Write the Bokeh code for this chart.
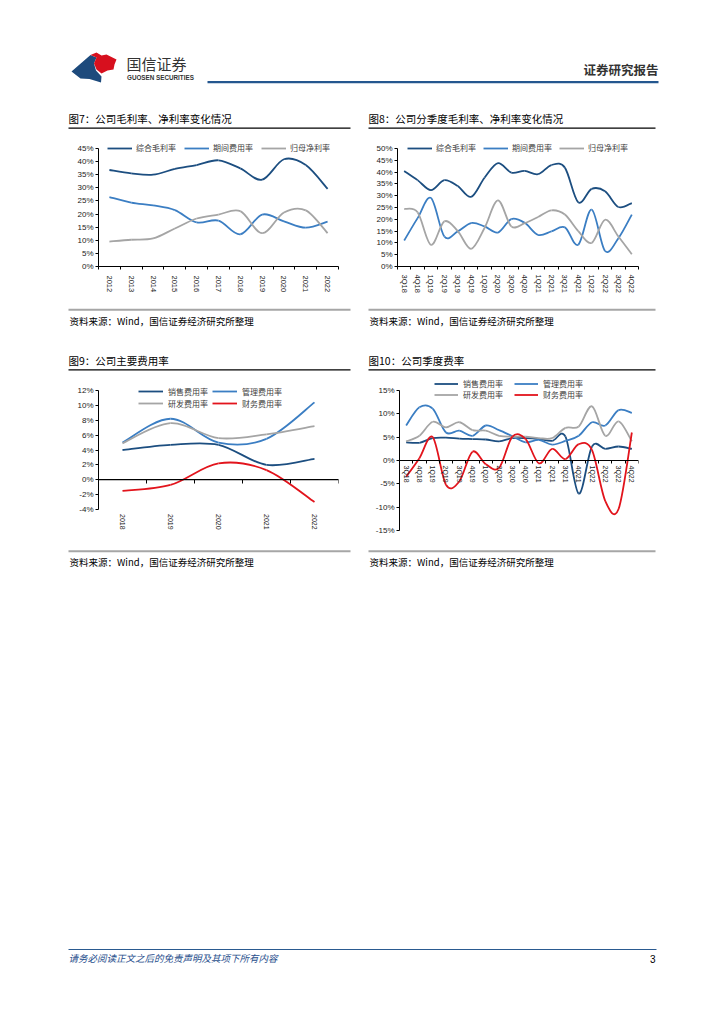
import numpy as np
from bokeh.plotting import figure
from bokeh.models import (Range1d, LinearAxis, FixedTicker, Legend, LegendItem,
                          PrintfTickFormatter, Span)
from bokeh.layouts import column, row
from bokeh.embed import file_html
from bokeh.resources import INLINE
from bokeh.core.properties import value

# ---------------- data ----------------
years_a = ["2012", "2013", "2014", "2015", "2016", "2017", "2018", "2019", "2020", "2021", "2022"]
gross_margin_a = [36.8, 35.5, 35.0, 37.2, 38.7, 40.5, 37.4, 33.1, 40.9, 38.7, 29.6]
expense_ratio_a = [26.5, 24.4, 23.3, 21.5, 16.8, 17.5, 12.3, 19.8, 17.2, 14.8, 17.1]
net_margin_a = [9.5, 10.2, 10.7, 14.5, 18.3, 19.8, 21.1, 12.7, 20.6, 21.4, 12.7]

quarters = ["3Q18", "4Q18", "1Q19", "2Q19", "3Q19", "4Q19", "1Q20", "2Q20", "3Q20",
            "4Q20", "1Q21", "2Q21", "3Q21", "4Q21", "1Q22", "2Q22", "3Q22", "4Q22"]
gross_margin_q = [40.5, 36.6, 32.4, 36.6, 34.1, 29.5, 37.6, 43.8, 39.8, 40.5, 39.1, 43.0, 41.9, 27.2, 32.9, 31.9, 25.2, 26.9]
expense_ratio_q = [11.0, 20.5, 29.0, 12.7, 14.9, 18.4, 17.0, 14.4, 20.1, 18.5, 13.4, 14.9, 16.6, 9.2, 24.1, 6.6, 12.0, 22.0]
net_margin_q = [24.4, 23.0, 9.2, 19.1, 15.0, 7.5, 16.3, 28.0, 17.0, 18.4, 21.0, 23.8, 22.0, 15.0, 10.0, 19.8, 12.7, 5.2]

years_b = ["2018", "2019", "2020", "2021", "2022"]
selling_b = [4.0, 4.7, 4.7, 2.0, 2.8]
admin_b = [5.0, 8.2, 5.0, 5.5, 10.4]
rd_b = [4.9, 7.6, 5.6, 6.1, 7.2]
finance_b = [-1.5, -0.7, 2.2, 1.3, -3.0]

selling_q = [3.9, 3.8, 4.8, 4.9, 4.7, 4.6, 4.5, 4.1, 4.8, 4.8, 4.6, 4.2, 5.1, -7.1, 3.0, 2.5, 3.0, 2.5]
admin_q = [7.5, 11.4, 11.1, 6.0, 6.4, 5.3, 7.5, 6.5, 5.2, 3.9, 4.4, 3.4, 4.2, 5.3, 8.2, 7.5, 10.8, 10.2]
rd_q = [4.1, 5.3, 8.3, 7.1, 8.2, 6.5, 6.4, 5.3, 5.1, 5.1, 4.8, 4.8, 7.0, 7.3, 11.6, 5.3, 8.4, 4.1]
finance_q = [-3.5, 0.5, 5.0, -5.2, -4.5, 1.9, -0.8, -1.6, 5.1, 4.6, -0.6, 2.5, 0.3, 3.5, 2.2, -8.7, -10.4, 6.0]

margin_names = ["综合毛利率", "期间费用率", "归母净利率"]
fee_names = ["销售费用率", "管理费用率", "研发费用率", "财务费用率"]

titles = ["图7：公司毛利率、净利率变化情况", "图8：公司分季度毛利率、净利率变化情况",
          "图9：公司主要费用率", "图10：公司季度费率"]
source_text = "资料来源：Wind，国信证券经济研究所整理"
footer_text = "请务必阅读正文之后的免责声明及其项下所有内容"
page_no = "3"

# ---------------- style ----------------
CJK = "Noto Sans CJK SC"
LAT = "Liberation Sans"
DARK = "#1c4e80"
MID = "#3b7ec3"
GRAY = "#a5a5a5"
RED = "#e2141c"
LW = 1.8
PAGE_W = 708


def decor(h, y0):
    p = figure(width=PAGE_W, height=h, x_range=Range1d(0, PAGE_W), y_range=Range1d(y0 + h, y0),
               x_axis_type=None, y_axis_type=None, toolbar_location=None,
               output_backend="svg", min_border=0, outline_line_color=None,
               background_fill_color="white", border_fill_color="white")
    return p


def txt(p, x, y, s, size, color="#000000", font=CJK, align="left", style="normal"):
    p.text(x=[x], y=[y], text=[s], text_font=value(font), text_font_size=size,
           text_color=color, text_align=align, text_baseline="middle",
           text_font_style=style)


def hline(p, x0, x1, y, color, w):
    p.line(x=[x0, x1], y=[y, y], line_color=color, line_width=w)


def make_chart(width, height, row_top, bl, fw, f_top, f_bot, hi_px, lo_px,
               ncat, ylo, yhi, ystep):
    """Frame spans page rows f_top..f_bot; value yhi sits at hi_px and ylo at lo_px."""
    scale = (lo_px - hi_px) / (yhi - ylo)
    ytop = yhi + (hi_px - f_top) / scale
    ybot = ylo - (f_bot - lo_px) / scale
    bt = f_top - row_top
    bb = row_top + height - f_bot
    br = width - bl - fw
    p = figure(width=width, height=height, x_range=Range1d(-0.5, ncat - 0.5),
               y_range=Range1d(ybot, ytop), toolbar_location=None, output_backend="svg",
               min_border_left=bl, min_border_right=br, min_border_top=bt,
               min_border_bottom=bb, outline_line_color=None,
               background_fill_color="white", border_fill_color="white")
    p.xgrid.visible = False
    p.ygrid.visible = False
    ya = p.yaxis[0]
    ya.bounds = (ylo, yhi)
    ya.ticker = FixedTicker(ticks=list(range(ylo, yhi + 1, ystep)))
    ya.formatter = PrintfTickFormatter(format="%d%%")
    ya.major_label_text_font = LAT
    ya.major_label_text_font_size = "8px"
    ya.major_label_text_color = "#222222"
    ya.major_tick_out = 3
    ya.major_tick_in = 0
    ya.major_label_standoff = 2
    ya.minor_tick_line_color = None
    ya.axis_line_color = "#000000"
    ya.major_tick_line_color = "#000000"
    return p, scale


def style_cat_axis(ax, labels, standoff, boundary_ticks=True):
    n = len(labels)
    ax.ticker = FixedTicker(ticks=list(range(n)),
                            minor_ticks=[i - 0.5 for i in range(n + 1)] if boundary_ticks else [])
    ax.major_label_overrides = {i: lab for i, lab in enumerate(labels)}
    ax.major_label_orientation = "vertical"
    ax.major_label_text_font = LAT
    ax.major_label_text_font_size = "7.5px"
    ax.major_label_text_color = "#222222"
    ax.major_label_standoff = standoff
    ax.major_tick_out = 0
    ax.major_tick_in = 0
    ax.minor_tick_out = 3
    ax.minor_tick_in = 0
    ax.minor_tick_line_color = "#000000"
    ax.axis_line_color = "#000000"


def smooth(p, ys, color):
    ys = np.asarray(ys, dtype=float)
    n = len(ys)
    xs = np.arange(n, dtype=float)
    i = np.arange(n - 1)
    im1 = np.maximum(i - 1, 0)
    ip2 = np.minimum(i + 2, n - 1)
    cx0 = xs[i] + (xs[i + 1] - xs[im1]) / 6.0
    cy0 = ys[i] + (ys[i + 1] - ys[im1]) / 6.0
    cx1 = xs[i + 1] - (xs[ip2] - xs[i]) / 6.0
    cy1 = ys[i + 1] - (ys[ip2] - ys[i]) / 6.0
    p.bezier(x0=xs[:-1], y0=ys[:-1], x1=xs[1:], y1=ys[1:], cx0=cx0, cy0=cy0,
             cx1=cx1, cy1=cy1, line_color=color, line_width=LW)


def add_legend(p, names, colors, loc, glyph_w, standoff, label_w, item_h, ncols):
    items = []
    for nm, c in zip(names, colors):
        r = p.line(x=np.array([np.nan]), y=np.array([np.nan]), line_color=c, line_width=LW)
        items.append(LegendItem(label=value(nm), renderers=[r]))
    lg = Legend(items=items, location=loc, orientation="horizontal", ncols=ncols,
                border_line_color=None, background_fill_alpha=0, padding=0, margin=0,
                spacing=0, glyph_width=glyph_w, glyph_height=item_h,
                label_height=item_h, label_width=label_w, label_standoff=standoff,
                label_text_font=CJK, label_text_font_size="8px",
                label_text_color="#404040")
    p.add_layout(lg, "center")


# ---------------- row A: header + titles of first row (page y 0..138) ----------------
dA = decor(138, 0)
dA.patch(x=[71, 90, 96, 93.5, 95.5, 101, 100.5, 89, 80], y=[71, 54.5, 57, 63, 70, 76, 82, 78.5, 78],
         fill_color="#1d4a7c", line_color=None)
dA.patch(x=[90, 96, 101, 106, 113, 116, 114, 113, 107, 101, 96, 93.5, 96],
         y=[54.5, 52, 55, 54, 57.5, 59, 64, 69, 70, 73, 69, 63, 57],
         fill_color="#d7101e", line_color=None)
txt(dA, 126, 62.5, "国信证券", "15px", color="#333333")
txt(dA, 126.5, 77, "GUOSEN SECURITIES", "6.3px", color="#333333", font=LAT, style="bold")
hline(dA, 207, 658, 81.7, "#24578f", 2.2)
txt(dA, 658, 68.5, "证券研究报告", "12.5px", color="#333333", align="right", style="bold")
txt(dA, 68, 118, titles[0], "10.5px")
txt(dA, 368, 118, titles[1], "10.5px")
hline(dA, 68, 350, 127.7, "#000000", 1.3)
hline(dA, 368, 655, 127.7, "#000000", 1.3)

# ---------------- row B: charts 7 & 8 (page y 138..300) ----------------
c7, _ = make_chart(354, 162, 138, 98, 240, 140, 266, 148, 266, len(years_a), 0, 45, 5)
style_cat_axis(c7.xaxis[0], years_a, 6)
smooth(c7, gross_margin_a, DARK)
smooth(c7, expense_ratio_a, MID)
smooth(c7, net_margin_a, GRAY)
add_legend(c7, margin_names, [DARK, MID, GRAY], (9, 113), 25, 4, 48, 10, 3)

c8, _ = make_chart(354, 162, 138, 43, 241, 140, 266, 148, 266, len(quarters), 0, 50, 5)
style_cat_axis(c8.xaxis[0], quarters, 5)
smooth(c8, gross_margin_q, DARK)
smooth(c8, expense_ratio_q, MID)
smooth(c8, net_margin_q, GRAY)
add_legend(c8, margin_names, [DARK, MID, GRAY], (10, 113), 25, 4, 47, 10, 3)

# ---------------- row C: sources + titles of second row (page y 300..372) ----------------
dC = decor(72, 300)
hline(dC, 68, 350, 309.3, "#a6a6a6", 2)
hline(dC, 368, 655, 309.3, "#a6a6a6", 2)
txt(dC, 69, 320.5, source_text, "9.5px")
txt(dC, 369, 320.5, source_text, "9.5px")
txt(dC, 68, 360, titles[2], "10.5px")
txt(dC, 368, 360, titles[3], "10.5px")
hline(dC, 68, 350, 369.3, "#000000", 1.3)
hline(dC, 368, 655, 369.3, "#000000", 1.3)

# ---------------- row D: charts 9 & 10 (page y 372..549) ----------------
c9, s9 = make_chart(354, 177, 372, 98, 240, 376, 530, 390, 509, len(years_b), -4, 12, 2)
bx = c9.xaxis[0]
style_cat_axis(bx, years_b, 0, boundary_ticks=False)
bx.major_label_text_font_size = "7px"
bx.fixed_location = -4 - 4.5 / s9
bx.axis_line_color = None
bx.minor_tick_line_color = None
bx.major_tick_line_color = None
zax = LinearAxis(fixed_location=0,
                 ticker=FixedTicker(ticks=[i - 0.5 for i in range(len(years_b) + 1)]),
                 major_tick_in=4, major_tick_out=0, major_label_standoff=0,
                 major_label_text_font_size="1px", major_label_text_color=None,
                 minor_tick_line_color=None, axis_line_color="#000000",
                 axis_line_width=1, major_tick_line_color="#000000")
c9.add_layout(zax, "above")
c9.add_layout(Span(location=0, dimension="width", line_color="#000000", line_width=1))
smooth(c9, selling_b, DARK)
smooth(c9, admin_b, MID)
smooth(c9, rd_b, GRAY)
smooth(c9, finance_b, RED)
add_legend(c9, fee_names, [DARK, MID, GRAY, RED], (40, 121), 25, 5, 44, 12, 2)

c10, _ = make_chart(354, 177, 372, 45, 239, 376, 530, 390, 530, len(quarters), -15, 15, 5)
ax10 = c10.xaxis[0]
style_cat_axis(ax10, quarters, 2)
ax10.fixed_location = 0
ax10.major_label_text_font_size = "7px"
smooth(c10, selling_q, DARK)
smooth(c10, admin_q, MID)
smooth(c10, rd_q, GRAY)
smooth(c10, finance_q, RED)
add_legend(c10, fee_names, [DARK, MID, GRAY, RED], (35, 130), 24, 5, 51, 11, 2)

# ---------------- row E: sources + footer (page y 549..1008) ----------------
dE = decor(459, 549)
hline(dE, 68, 350, 550.8, "#a6a6a6", 2)
hline(dE, 368, 655, 550.8, "#a6a6a6", 2)
txt(dE, 69, 561, source_text, "9.5px")
txt(dE, 369, 561, source_text, "9.5px")
hline(dE, 68, 656, 949, "#2a5a90", 1)
txt(dE, 68, 957.5, footer_text, "9.5px", color="#1f4e8c", style="italic")
txt(dE, 655, 958, page_no, "10px", font=LAT, align="right")

layout = column(dA, row(c7, c8), dC, row(c9, c10), dE)

with open("out.html", "w") as f:
    f.write(file_html(layout, INLINE))
